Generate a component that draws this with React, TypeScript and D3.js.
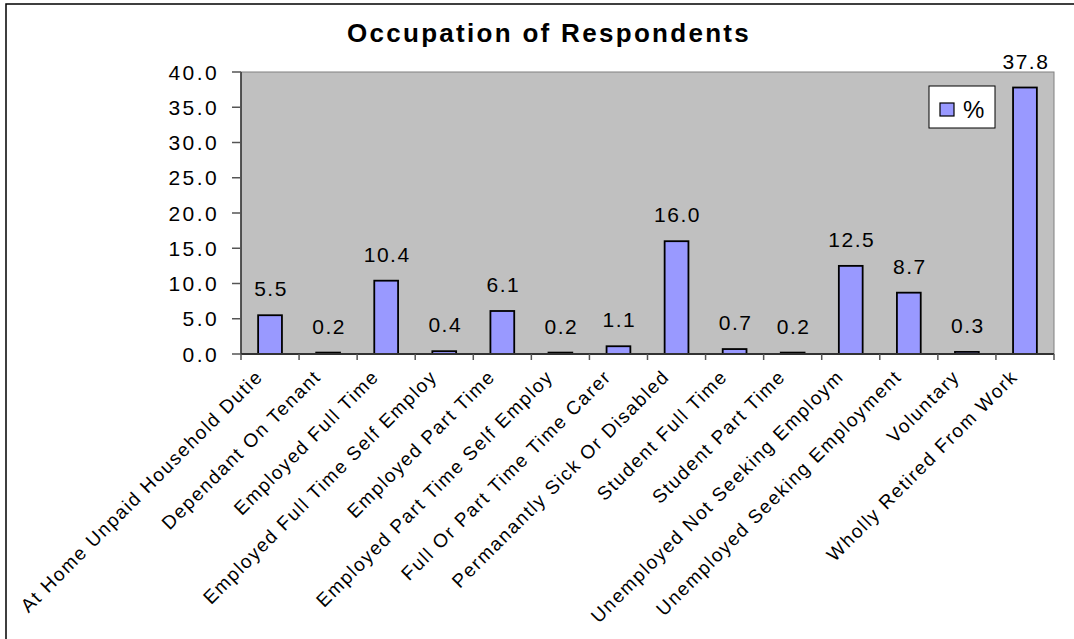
import React from "react";
import * as d3 from "d3";

const categories: string[] = [
  "At Home Unpaid Household Dutie",
  "Dependant On Tenant",
  "Employed Full Time",
  "Employed Full Time Self Employ",
  "Employed Part Time",
  "Employed Part Time Self Employ",
  "Full Or Part Time Time Carer",
  "Permanantly Sick Or Disabled",
  "Student Full Time",
  "Student Part Time",
  "Unemployed Not Seeking Employm",
  "Unemployed Seeking Employment",
  "Voluntary",
  "Wholly Retired From Work",
];
const values: number[] = [5.5, 0.2, 10.4, 0.4, 6.1, 0.2, 1.1, 16.0, 0.7, 0.2, 12.5, 8.7, 0.3, 37.8];
const yTicks: number[] = [0, 5, 10, 15, 20, 25, 30, 35, 40];
const title = "Occupation of Respondents";
const seriesName = "%";

const W = 1074;
const H = 639;
const plot = { left: 241, right: 1054, top: 72, bottom: 354 };
const FONT = "Arial, 'Liberation Sans', sans-serif";
const BAR = "#9999FF";

export default function App() {
  const x = d3.scaleBand<string>().domain(categories).range([plot.left, plot.right]).padding(0);
  const y = d3.scaleLinear().domain([0, 40]).range([plot.bottom, plot.top]);
  const bw = x.bandwidth();
  const barW = bw * 0.41;
  const fmt = d3.format(".1f");

  return (
    <svg
      width={W}
      height={H}
      style={{ position: "absolute", left: 0, top: 0, background: "#fff" }}
      fontFamily={FONT}
    >
      <rect x={6} y={4} width={W + 20} height={H + 20} fill="#fff" stroke="#000" strokeWidth={1.5} />
      <text
        x={549}
        y={42}
        textAnchor="middle"
        fontSize={26}
        fontWeight="bold"
        letterSpacing={2.3}
        fill="#000"
      >
        {title}
      </text>

      {/* plot area */}
      <rect
        x={plot.left}
        y={plot.top}
        width={plot.right - plot.left}
        height={plot.bottom - plot.top}
        fill="#C0C0C0"
        stroke="#808080"
        strokeWidth={1}
      />

      {/* y axis */}
      <line x1={plot.left} x2={plot.left} y1={plot.top} y2={plot.bottom} stroke="#333" strokeWidth={1.5} />
      {yTicks.map((t) => (
        <g key={"yt" + t}>
          <line x1={plot.left - 9} x2={plot.left} y1={y(t)} y2={y(t)} stroke="#555" strokeWidth={1.5} />
          <text
            x={plot.left - 22}
            y={y(t)}
            dy="0.36em"
            textAnchor="end"
            fontSize={21}
            letterSpacing={2.4}
            fill="#000"
          >
            {fmt(t)}
          </text>
        </g>
      ))}

      {/* bars */}
      {categories.map((c, i) => {
        const cx = (x(c) as number) + bw / 2;
        const v = values[i];
        return (
          <g key={"b" + i}>
            <rect
              x={cx - barW / 2}
              y={y(v)}
              width={barW}
              height={y(0) - y(v)}
              fill={BAR}
              stroke="#000"
              strokeWidth={1.8}
            />
            <text
              x={cx + 1}
              y={y(v) - 19}
              textAnchor="middle"
              fontSize={21}
              letterSpacing={1.5}
              fill="#000"
            >
              {fmt(v)}
            </text>
          </g>
        );
      })}

      {/* x axis */}
      <line x1={plot.left} x2={plot.right} y1={plot.bottom} y2={plot.bottom} stroke="#333" strokeWidth={2} />
      {categories.map((c, i) => (
        <line
          key={"xt" + i}
          x1={x(c) as number}
          x2={x(c) as number}
          y1={plot.bottom}
          y2={plot.bottom + 6}
          stroke="#555"
          strokeWidth={1.5}
        />
      ))}
      <line x1={plot.right} x2={plot.right} y1={plot.bottom} y2={plot.bottom + 6} stroke="#555" strokeWidth={1.5} />

      {/* category labels */}
      {categories.map((c, i) => {
        const cx = (x(c) as number) + bw / 2;
        return (
          <text
            key={"cl" + i}
            transform={`translate(${cx - 6},${plot.bottom + 24}) rotate(-45)`}
            textAnchor="end"
            fontSize={19}
            letterSpacing={1.6}
            fill="#000"
          >
            {c}
          </text>
        );
      })}

      {/* legend */}
      <rect x={929} y={86} width={66} height={42} fill="#fff" stroke="#000" strokeWidth={1} />
      <rect x={940} y={103} width={14} height={13} fill={BAR} stroke="#000" strokeWidth={1.2} />
      <text x={963} y={118} fontSize={24} fill="#000">
        {seriesName}
      </text>
    </svg>
  );
}
